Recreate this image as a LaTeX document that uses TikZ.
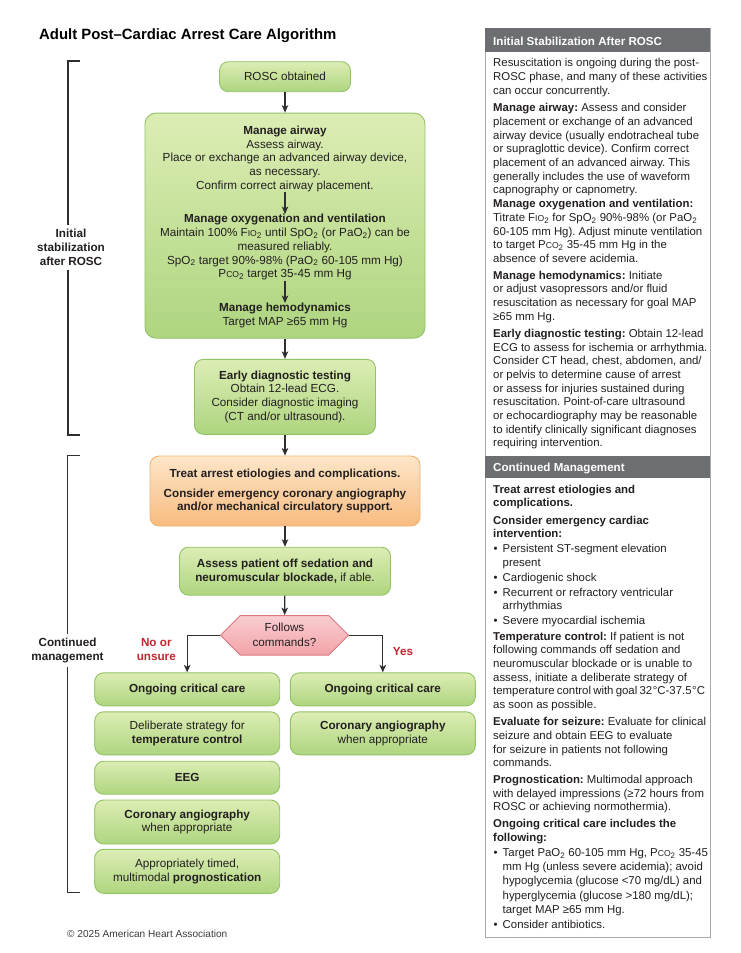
\documentclass[tikz,border=0pt]{standalone}
\usepackage{fontspec}
\setmainfont{Liberation Sans}
\usetikzlibrary{arrows.meta,shapes.symbols,calc}
\frenchspacing
\definecolor{txt}{HTML}{231F20}
\definecolor{gtop}{HTML}{DCEDB4}
\definecolor{gbot}{HTML}{AED57F}
\definecolor{gedge}{HTML}{92C266}
\definecolor{otop}{HTML}{FDE6C8}
\definecolor{obot}{HTML}{F8BB80}
\definecolor{oedge}{HTML}{EFB374}
\definecolor{rtop}{HTML}{F9CDD0}
\definecolor{rbot}{HTML}{F2A3A9}
\definecolor{redge}{HTML}{DD7880}
\definecolor{redtxt}{HTML}{C1272D}
\definecolor{hdr}{HTML}{6D6E71}
\definecolor{pedge}{HTML}{A7A9AC}
\definecolor{brk}{HTML}{2E2E2E}
\definecolor{foot}{HTML}{3A3A3A}
\newcommand\boxfont{\fontsize{11.7}{13.8}\selectfont}
\newcommand\pfont{\fontsize{11.4}{13.7}\selectfont}
\newcommand\hfont{\fontsize{11.6}{14}\selectfont}
\newcommand\mSc[1]{{\fontsize{8.6}{0}\selectfont #1}}
\newcommand\mFio{F\mSc{IO}\textsubscript{2}}
\newcommand\mPco{P\mSc{CO}\textsubscript{2}}
\newcommand\mSpo{SpO\textsubscript{2}}
\newcommand\mPao{PaO\textsubscript{2}}
\newcommand\bul{\makebox[9pt][l]{•}}
\newcommand\ind{\hspace*{9pt}}
\newcommand\tightline[1]{{\spaceskip=0.7\fontdimen2\font\relax #1}}
\tikzset{
  arr/.style={draw=brk, line width=1.2pt, -{Stealth[length=7.5pt,width=6.5pt,inset=2pt]}},
  gbox/.style={draw=gedge, line width=0.9pt, rounded corners=9pt, top color=gtop, bottom color=gbot, inner sep=0pt, align=center, text=txt, font=\boxfont},
  obox/.style={gbox, draw=oedge, top color=otop, bottom color=obot},
  tnode/.style={inner sep=0pt, align=center, text=txt, font=\boxfont},
  ptxt/.style={inner sep=0pt, align=left, text=txt, anchor=base west, font=\pfont},
  brack/.style={draw=brk, line width=1.2pt},
  blabel/.style={inner xsep=0pt, inner ysep=4pt, align=center, text=txt, font=\boxfont\bfseries},
  redlab/.style={inner sep=0pt, align=center, text=redtxt, font=\boxfont\bfseries},
  hdrbar/.style={fill=hdr, anchor=north west, minimum width=225, inner sep=0pt},
  hdrtxt/.style={anchor=base west, inner sep=0pt, text=white, font=\hfont\bfseries},
}
\begin{document}
\begin{tikzpicture}[x=1pt,y=-1pt]
\fill[white] (0,0) rectangle (740,953);
\useasboundingbox (0,0) rectangle (740,953);

% title
\node[anchor=base west, inner sep=0pt, font=\fontsize{14.9}{17}\selectfont\bfseries, text=black] (title) at (39,39) {Adult Post–Cardiac Arrest Care Algorithm};

% flow (base anchor of a multi-line node = baseline of its last line)
\node[gbox, minimum width=131, minimum height=30] (rosc) at (285,76.7) {ROSC obtained};
\node[gbox, rounded corners=11pt, minimum width=280, minimum height=225] (stab) at (285,225.6) {};
\node[tnode, anchor=base] (air) at (285,189.5) {\textbf{Manage airway}\\Assess airway.\\Place or exchange an advanced airway device,\\as necessary.\\Confirm correct airway placement.};
\node[tnode, anchor=base] (oxy) at (285,277.9) {\textbf{Manage oxygenation and ventilation}\\Maintain 100\% \mFio{} until \mSpo{} (or \mPao) can be\\measured reliably.\\\mSpo{} target 90\%-98\% (\mPao{} 60-105 mm Hg)\\\mPco{} target 35-45 mm Hg};
\node[tnode, anchor=base] (hemo) at (285,325.5) {\textbf{Manage hemodynamics}\\Target MAP ≥65 mm Hg};
\node[gbox, minimum width=181, minimum height=75] (diag) at (285,396.8) {\textbf{Early diagnostic testing}\\Obtain 12-lead ECG.\\Consider diagnostic imaging\\(CT and/or ultrasound).};
\node[obox, minimum width=270, minimum height=70] (treat) at (285,491) {\textbf{Treat arrest etiologies and complications.}\\[6pt]\textbf{Consider emergency coronary angiography}\\\textbf{and/or mechanical circulatory support.}};
\node[gbox, minimum width=211, minimum height=48] (assess) at (285,571.2) {\textbf{Assess patient off sedation and}\\\textbf{neuromuscular blockade,} if able.};
\node[draw=redge, line width=0.9pt, top color=rtop, bottom color=rbot, signal, signal to=west and east, signal pointer angle=90, minimum width=128, minimum height=39.5, inner sep=0pt, align=center, font=\fontsize{11.7}{15}\selectfont, text=txt] (dec) at (284.5,635.3) {Follows\\commands?};

% left column
\node[gbox, minimum width=185, minimum height=33] (occL) at (187.2,689.3) {\textbf{Ongoing critical care}};
\node[gbox, minimum width=185, minimum height=43] (temp) at (187.2,733.3) {Deliberate strategy for\\\textbf{temperature control}};
\node[gbox, minimum width=185, minimum height=33] (eeg) at (187.2,777.7) {\textbf{EEG}};
\node[gbox, minimum width=185, minimum height=44] (corL) at (187.2,822) {\textbf{Coronary angiography}\\when appropriate};
\node[gbox, minimum width=185, minimum height=44] (prog) at (187.2,871.3) {Appropriately timed,\\multimodal \textbf{prognostication}};
% right column
\node[gbox, minimum width=185, minimum height=33] (occR) at (382.8,689.3) {\textbf{Ongoing critical care}};
\node[gbox, minimum width=185, minimum height=43] (corR) at (382.8,733.3) {\textbf{Coronary angiography}\\when appropriate};

\node[redlab] (no) at (156.3,649.8) {No or\\unsure};
\node[redlab] (yes) at (403,652) {Yes};

% connectors
\draw[arr] (rosc) -- (stab);
\draw[arr] (air) -- (oxy);
\draw[arr] (oxy) -- (hemo);
\draw[arr] (stab) -- (diag);
\draw[arr] (diag) -- (treat);
\draw[arr] (treat) -- (assess);
\draw[arr] (assess) -- (dec);
\draw[arr] (dec.west) -| (occL.north);
\draw[arr] (dec.east) -| (occR.north);

% brackets
\node[blabel] (lab1) at (71,247.4) {Initial\\stabilization\\after ROSC};
\node[blabel] (lab2) at (67.5,650.6) {Continued\\management};
\coordinate (b1t) at (80,61);
\coordinate (b1b) at (80,435);
\coordinate (b1x) at (68,0);
\coordinate (b2t) at (79.5,455.5);
\coordinate (b2b) at (79.5,892.7);
\coordinate (b2x) at (67.8,0);
\draw[brack] (b1t) -| (b1x |- lab1.north);
\draw[brack] (b1x |- lab1.south) |- (b1b);
\draw[brack] (b2t) -| (b2x |- lab2.north);
\draw[brack] (b2x |- lab2.south) |- (b2b);

% footer
\node[anchor=base west, inner sep=0pt, font=\fontsize{10.1}{12}\selectfont, text=foot] (foot) at (67,937) {© 2025 American Heart Association};

% right panel
\node[draw=pedge, line width=1pt, anchor=north west, minimum width=225, minimum height=908.5, inner sep=0pt] (panel) at (485,28) {};
\node[hdrbar, minimum height=23.5] (hd1) at (485,28) {};
\node[hdrtxt] (hd1t) at (493,45) {Initial Stabilization After ROSC};
\node[hdrbar, minimum height=22] (hd2) at (485,456) {};
\node[hdrtxt] (hd2t) at (493,471.5) {Continued Management};

\node[ptxt] (p1) at (493,94.1) {Resuscitation is ongoing during the post-\\ROSC phase, and many of these activities\\can occur concurrently.};
\node[ptxt] (p2) at (493,262.4) {\textbf{Manage airway:} Assess and consider\\placement or exchange of an advanced\\airway device (usually endotracheal tube\\or supraglottic device). Confirm correct\\placement of an advanced airway. This\\generally includes the use of waveform\\capnography or capnometry.\\\textbf{Manage oxygenation and ventilation:}\\Titrate \mFio{} for \mSpo{} 90\%-98\% (or \mPao\\60-105 mm Hg). Adjust minute ventilation\\to target \mPco{} 35-45 mm Hg in the\\absence of severe acidemia.};
\node[ptxt] (p3) at (493,320.1) {\textbf{Manage hemodynamics:} Initiate\\or adjust vasopressors and/or fluid\\resuscitation as necessary for goal MAP\\≥65 mm Hg.};
\node[ptxt] (p4) at (493,446.9) {\textbf{Early diagnostic testing:} Obtain 12-lead\\ECG to assess for ischemia or arrhythmia.\\Consider CT head, chest, abdomen, and/\\or pelvis to determine cause of arrest\\or assess for injuries sustained during\\resuscitation. Point-of-care ultrasound\\or echocardiography may be reasonable\\to identify clinically significant diagnoses\\requiring intervention.};

\node[ptxt, font=\fontsize{11.4}{13.4}\selectfont\bfseries] (p5) at (493,506.7) {Treat arrest etiologies and\\complications.};
\node[ptxt, font=\fontsize{11.4}{13.4}\selectfont\bfseries] (p6) at (493,537.4) {Consider emergency cardiac\\intervention:};
\node[ptxt, font=\fontsize{11.4}{13.4}\selectfont] (l1) at (493.5,624.5) {\bul Persistent ST-segment elevation\\\ind present\\[1.6pt]\bul Cardiogenic shock\\[1.6pt]\bul Recurrent or refractory ventricular\\\ind arrhythmias\\[1.6pt]\bul Severe myocardial ischemia};
\node[ptxt] (p7) at (493,708.5) {\textbf{Temperature control:} If patient is not\\following commands off sedation and\\neuromuscular blockade or is unable to\\assess, initiate a deliberate strategy of\\\tightline{temperature control with goal 32\kern0.6pt°C-37.5\kern0.6pt°C}\\as soon as possible.};
\node[ptxt] (p8) at (493,766.8) {\textbf{Evaluate for seizure:} Evaluate for clinical\\seizure and obtain EEG to evaluate\\for seizure in patients not following\\commands.};
\node[ptxt] (p9) at (493,810.7) {\textbf{Prognostication:} Multimodal approach\\with delayed impressions (≥72 hours from\\ROSC or achieving normothermia).};
\node[ptxt, font=\fontsize{11.4}{13.4}\selectfont\bfseries] (p10) at (493,841.1) {Ongoing critical care includes the\\following:};
\node[ptxt, font=\fontsize{11.4}{14.1}\selectfont] (l2) at (493.5,928) {\bul Target \mPao{} 60-105 mm Hg, \mPco{} 35-45\\\ind mm Hg (unless severe acidemia); avoid\\\ind hypoglycemia (glucose <70 mg/dL) and\\\ind hyperglycemia (glucose >180 mg/dL);\\\ind target MAP ≥65 mm Hg.\\[0.8pt]\bul Consider antibiotics.};
\end{tikzpicture}
\end{document}
